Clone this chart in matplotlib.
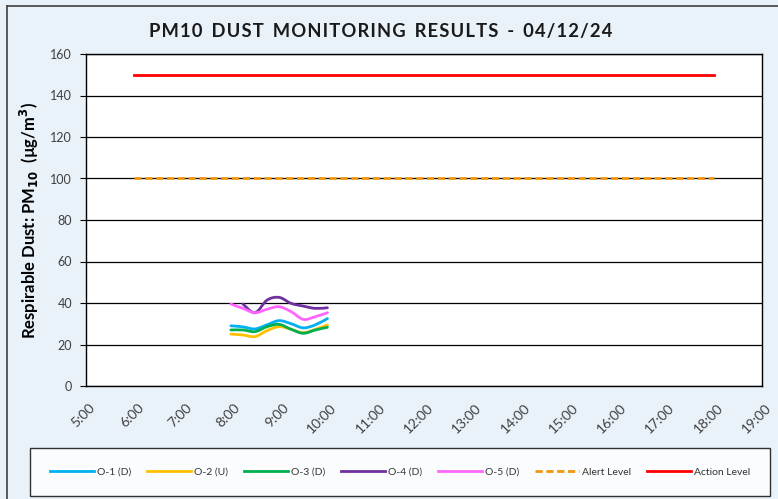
import numpy as np
import matplotlib
matplotlib.use("Agg")
import matplotlib.pyplot as plt
from matplotlib.path import Path
from matplotlib.patches import PathPatch
from matplotlib.lines import Line2D
from matplotlib.transforms import ScaledTranslation

# sample times (15 min) and PM10 readings, ug/m3
times = ["8:00", "8:15", "8:30", "8:45", "9:00", "9:15", "9:30", "9:45", "10:00"]
o1 = [29.0, 28.5, 27.5, 29.5, 31.5, 30.0, 28.0, 29.5, 32.5]
o2 = [25.0, 24.6, 23.8, 26.7, 28.6, 27.3, 25.7, 27.3, 29.4]
o3 = [27.0, 27.0, 26.2, 28.6, 29.7, 27.3, 25.4, 27.0, 28.3]
o4 = [np.nan, 39.5, 35.3, 41.4, 42.7, 39.8, 38.5, 37.4, 37.7]
o5 = [39.5, 37.4, 35.3, 37.0, 38.2, 35.8, 32.1, 33.4, 35.3]

limit_times = ["6:00", "18:00"]
alert_level = [100, 100]
action_level = [150, 150]

series_names = ["O-1 (D)", "O-2 (U)", "O-3 (D)", "O-4 (D)", "O-5 (D)"]
series_colors = ["#00B0F0", "#FFC000", "#00B050", "#7030A0", "#FF66FF"]

xtick_labels = [f"{h}:00" for h in range(5, 20)]


def to_hours(labels):
    out = []
    for s in labels:
        h, m = s.split(":")
        out.append(int(h) + int(m) / 60.0)
    return np.array(out)


def smooth_path(x, y):
    # Excel-style smoothed line: cubic bezier through the points
    x = np.asarray(x, float)
    y = np.asarray(y, float)
    ok = ~np.isnan(y)
    x, y = x[ok], y[ok]
    pts = np.column_stack([x, y])
    n = len(pts)
    verts = [pts[0]]
    codes = [Path.MOVETO]
    for i in range(n - 1):
        p0 = pts[max(i - 1, 0)]
        p1 = pts[i]
        p2 = pts[i + 1]
        p3 = pts[min(i + 2, n - 1)]
        c1 = p1 + (p2 - p0) / 6.0
        c2 = p2 - (p3 - p1) / 6.0
        verts += [c1, c2, p2]
        codes += [Path.CURVE4] * 3
    return Path(verts, codes)


plt.rcParams["font.family"] = ["Lato", "DejaVu Sans"]
bg = "#E9F1F9"

fig = plt.figure(figsize=(7.78, 4.99), dpi=100, facecolor=bg)
ax = fig.add_axes([86 / 778, 1 - 386 / 499, 676 / 778, 332 / 499])
ax.set_facecolor("white")

tx = to_hours(times)
lw = 2.0
for vals, col in zip([o1, o2, o3, o4, o5], series_colors):
    ax.add_patch(PathPatch(smooth_path(tx, vals), fill=False, edgecolor=col,
                           lw=lw, capstyle="round", joinstyle="round", zorder=3))

lx = to_hours(limit_times)
ax.plot(lx, alert_level, color="#F0960F", lw=2.0, ls=(0, (2.6, 1.3)), zorder=3)
ax.plot(lx, action_level, color="#FF0000", lw=2.0, zorder=3)

ax.set_xlim(5, 19)
ax.set_ylim(0, 160)
ax.set_yticks(np.arange(0, 161, 20))
ax.yaxis.grid(True, color="black", lw=0.9)
ax.set_axisbelow(True)
ax.set_xticks(np.arange(5, 20))
ax.set_xticklabels(xtick_labels, rotation=45, ha="right", va="top",
                   rotation_mode="anchor", fontsize=10, color="#404040")
ax.tick_params(axis="x", length=0, pad=11)
shift = ScaledTranslation(3 / 100, 0, fig.dpi_scale_trans)
for lbl in ax.get_xticklabels():
    lbl.set_transform(lbl.get_transform() + shift)
ax.tick_params(axis="y", length=4, labelsize=9, colors="black", pad=6)
for lbl in ax.get_yticklabels():
    lbl.set_color("#404040")
for sp in ax.spines.values():
    sp.set_color("black")
    sp.set_linewidth(1.0)

ax.set_ylabel("Respirable Dust: PM$_{\\mathbf{10}}$  (µg/m$^{\\mathbf{3}}$)",
              fontsize=12, fontweight="bold")
ax.yaxis.set_label_coords(-(86 - 41) / 676, 0.5)

fig.text(381 / 778, 1 - 32 / 499, "P M 1 0   D U S T   M O N I T O R I N G   R E S U L T S   -   0 4 / 1 2 / 2 4".replace("   ", "\u2003").replace(" ", "\u200a").replace("\u2003", "  "),
         ha="center", va="center", fontsize=13.2, fontweight="bold", color="#1a1a1a")

handles = [Line2D([], [], color=c, lw=lw) for c in series_colors]
handles.append(Line2D([], [], color="#F0960F", lw=2.0, ls=(0, (2.6, 1.3))))
handles.append(Line2D([], [], color="#FF0000", lw=2.0))
labels = series_names + ["Alert Level", "Action Level"]
leg = fig.legend(handles, labels, loc="center", ncol=7, mode="expand",
                 bbox_to_anchor=(30 / 778, 1 - 497 / 499, 740 / 778, 50 / 499),
                 fontsize=7.5, handlelength=4.2, handletextpad=0.3,
                 borderaxespad=0, fancybox=False, frameon=True,
                 borderpad=1.9, labelcolor="#333333")
leg.get_frame().set_edgecolor("black")
leg.get_frame().set_linewidth(1.0)

# outer chart border (left and top visible)
fig.add_artist(Line2D([7 / 778, 7 / 778], [0, 1 - 6 / 499], color="#404040",
                      lw=1.2, transform=fig.transFigure))
fig.add_artist(Line2D([7 / 778, 1], [1 - 6 / 499, 1 - 6 / 499], color="#404040",
                      lw=1.2, transform=fig.transFigure))

fig.savefig("out.png", dpi=100, facecolor=bg)
